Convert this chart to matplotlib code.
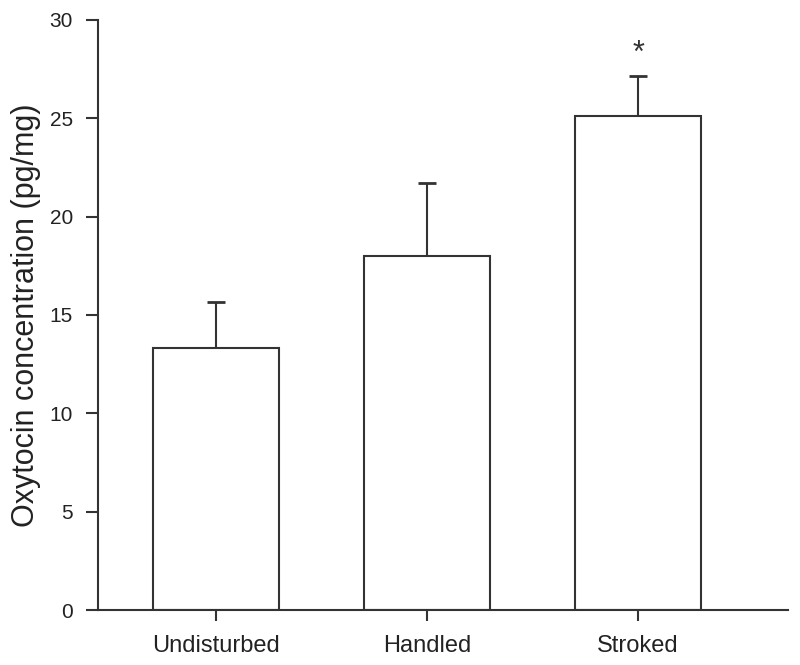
import numpy as np
import matplotlib.pyplot as plt

plt.rcParams['font.family'] = ['Liberation Sans', 'DejaVu Sans']

groups = ['Undisturbed', 'Handled', 'Stroked']
means = [13.3, 18.0, 25.1]
errors = [2.35, 3.7, 2.05]
marks = ['', '', '*']

ink = '#333333'
fig = plt.figure(figsize=(8, 6.65), dpi=100)
ax = fig.add_axes([0.1225, 0.0827, 0.8625, 0.8873])

x = np.arange(len(groups))
ax.bar(x, means, width=0.6, color='white', edgecolor=ink, linewidth=1.5, zorder=2)
ax.errorbar(x, means, yerr=[np.zeros(len(errors)), errors], fmt='none',
            ecolor=ink, elinewidth=1.5, capsize=6.8, capthick=2, zorder=1)
for xi, m, e, s in zip(x, means, errors, marks):
    if s:
        ax.text(xi, m + e + 1.1, s, ha='center', va='center', fontsize=22, color=ink)

ax.set_xlim(-0.56, 2.71)
ax.set_ylim(0, 30)
ax.set_yticks(range(0, 31, 5))
ax.set_xticks(x)
ax.set_xticklabels(groups)
ax.set_ylabel('Oxytocin concentration (pg/mg)', fontsize=22, color='#222222', labelpad=6)
for side in ['top', 'right']:
    ax.spines[side].set_visible(False)
for side in ['left', 'bottom']:
    ax.spines[side].set_color(ink)
    ax.spines[side].set_linewidth(1.5)
ax.tick_params(axis='y', length=9, width=1.5, color=ink, labelsize=15, labelcolor='#222222', pad=9)
ax.tick_params(axis='x', length=8, width=1.5, color=ink, labelsize=17, labelcolor='#222222', pad=10)

plt.savefig('out.png', dpi=100)
